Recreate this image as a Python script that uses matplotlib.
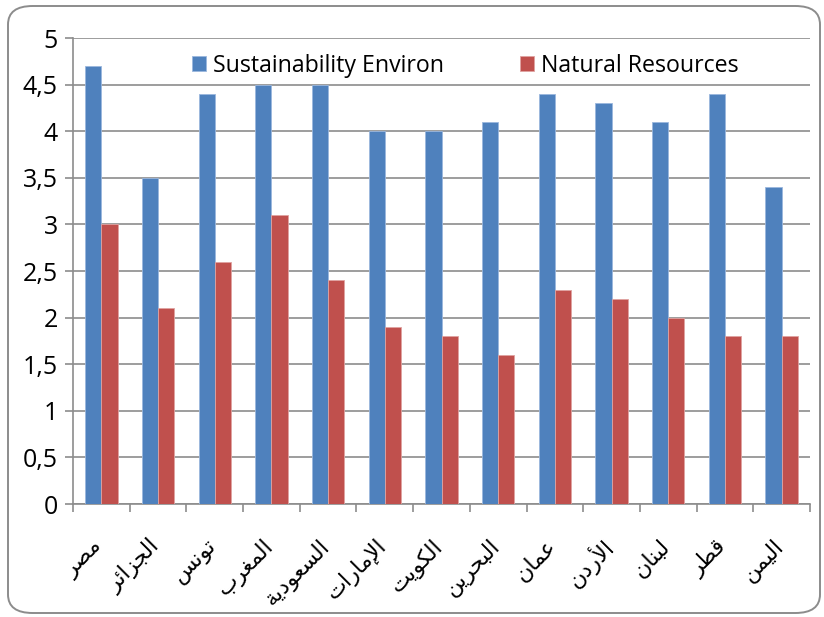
import matplotlib
matplotlib.use("Agg")
import matplotlib.pyplot as plt
from matplotlib.patches import FancyBboxPatch
import numpy as np

countries = ["مصر", "الجزائر", "تونس", "المغرب", "السعودية", "الإمارات", "الكويت",
             "البحرين", "عمان", "الأردن", "لبنان", "قطر", "اليمن"]
sustainability = [4.7, 3.5, 4.4, 4.5, 4.5, 4.0, 4.0, 4.1, 4.4, 4.3, 4.1, 4.4, 3.4]
natural_resources = [3.0, 2.1, 2.6, 3.1, 2.4, 1.9, 1.8, 1.6, 2.3, 2.2, 2.0, 1.8, 1.8]
series_names = ["Sustainability Environ", "Natural Resources"]
y_ticks = [0, 0.5, 1, 1.5, 2, 2.5, 3, 3.5, 4, 4.5, 5]
y_tick_labels = ["0", "0,5", "1", "1,5", "2", "2,5", "3", "3,5", "4", "4,5", "5"]

# --- minimal Arabic shaping (contextual forms + lam-alef) for LTR renderers ---
FORMS = {  # isolated, final, initial, medial
    'ء': (0xFE80,), 'آ': (0xFE81, 0xFE82), 'أ': (0xFE83, 0xFE84), 'ؤ': (0xFE85, 0xFE86),
    'إ': (0xFE87, 0xFE88), 'ئ': (0xFE89, 0xFE8A, 0xFE8B, 0xFE8C), 'ا': (0xFE8D, 0xFE8E),
    'ب': (0xFE8F, 0xFE90, 0xFE91, 0xFE92), 'ة': (0xFE93, 0xFE94),
    'ت': (0xFE95, 0xFE96, 0xFE97, 0xFE98), 'ث': (0xFE99, 0xFE9A, 0xFE9B, 0xFE9C),
    'ج': (0xFE9D, 0xFE9E, 0xFE9F, 0xFEA0), 'ح': (0xFEA1, 0xFEA2, 0xFEA3, 0xFEA4),
    'خ': (0xFEA5, 0xFEA6, 0xFEA7, 0xFEA8), 'د': (0xFEA9, 0xFEAA), 'ذ': (0xFEAB, 0xFEAC),
    'ر': (0xFEAD, 0xFEAE), 'ز': (0xFEAF, 0xFEB0),
    'س': (0xFEB1, 0xFEB2, 0xFEB3, 0xFEB4), 'ش': (0xFEB5, 0xFEB6, 0xFEB7, 0xFEB8),
    'ص': (0xFEB9, 0xFEBA, 0xFEBB, 0xFEBC), 'ض': (0xFEBD, 0xFEBE, 0xFEBF, 0xFEC0),
    'ط': (0xFEC1, 0xFEC2, 0xFEC3, 0xFEC4), 'ظ': (0xFEC5, 0xFEC6, 0xFEC7, 0xFEC8),
    'ع': (0xFEC9, 0xFECA, 0xFECB, 0xFECC), 'غ': (0xFECD, 0xFECE, 0xFECF, 0xFED0),
    'ف': (0xFED1, 0xFED2, 0xFED3, 0xFED4), 'ق': (0xFED5, 0xFED6, 0xFED7, 0xFED8),
    'ك': (0xFED9, 0xFEDA, 0xFEDB, 0xFEDC), 'ل': (0xFEDD, 0xFEDE, 0xFEDF, 0xFEE0),
    'م': (0xFEE1, 0xFEE2, 0xFEE3, 0xFEE4), 'ن': (0xFEE5, 0xFEE6, 0xFEE7, 0xFEE8),
    'ه': (0xFEE9, 0xFEEA, 0xFEEB, 0xFEEC), 'و': (0xFEED, 0xFEEE), 'ى': (0xFEEF, 0xFEF0),
    'ي': (0xFEF1, 0xFEF2, 0xFEF3, 0xFEF4),
}
LAM_ALEF = {'ا': (0xFEFB, 0xFEFC), 'أ': (0xFEF7, 0xFEF8), 'إ': (0xFEF9, 0xFEFA), 'آ': (0xFEF5, 0xFEF6)}


def shape_arabic(word):
    # merge lam + alef variants into single units
    units = []
    i = 0
    while i < len(word):
        c = word[i]
        if c == 'ل' and i + 1 < len(word) and word[i + 1] in LAM_ALEF:
            units.append(('LA', word[i + 1]))
            i += 2
        else:
            units.append(('C', c))
            i += 1

    def joins_left(u):  # can connect to the following letter
        if u[0] == 'LA':
            return False
        f = FORMS.get(u[1])
        return f is not None and len(f) == 4

    def joins_right(u):  # can connect to the preceding letter
        if u[0] == 'LA':
            return True
        f = FORMS.get(u[1])
        return f is not None and len(f) >= 2

    out = []
    for k, u in enumerate(units):
        prev_j = k > 0 and joins_left(units[k - 1]) and joins_right(u)
        next_j = k + 1 < len(units) and joins_left(u) and joins_right(units[k + 1])
        if u[0] == 'LA':
            iso, fin = LAM_ALEF[u[1]]
            out.append(chr(fin if prev_j else iso))
            continue
        f = FORMS.get(u[1])
        if f is None:
            out.append(u[1])
            continue
        if len(f) == 4:
            if prev_j and next_j:
                g = f[3]
            elif prev_j:
                g = f[1]
            elif next_j:
                g = f[2]
            else:
                g = f[0]
        elif len(f) == 2:
            g = f[1] if prev_j else f[0]
        else:
            g = f[0]
        out.append(chr(g))
    return ''.join(reversed(out))


blue = "#4F81BD"
red = "#C0504D"
grid_gray = "#8C8C8C"

fig = plt.figure(figsize=(8.24, 6.17), dpi=100)
ax = fig.add_axes([73 / 824, 1 - 504 / 617, (810 - 73) / 824, (504 - 38) / 617])

x = np.arange(len(countries))
w = 0.285
ax.bar(x - w / 2, sustainability, w, color=blue, edgecolor="#9BB7DD", linewidth=0.6,
       label=series_names[0], zorder=3)
ax.bar(x + w / 2, natural_resources, w, color=red, edgecolor="#E0A3A1", linewidth=0.6,
       label=series_names[1], zorder=3)

ax.set_xlim(-0.5, len(countries) - 0.5)
ax.set_ylim(0, 5)
ax.set_yticks(y_ticks)
ax.set_yticklabels(y_tick_labels, fontfamily="Open Sans", fontsize=18)
ax.yaxis.grid(True, color=grid_gray, linewidth=1.2, zorder=0)
ax.set_axisbelow(True)

# category boundary ticks on the x axis
ax.set_xticks(np.arange(len(countries) + 1) - 0.5)
ax.set_xticklabels([])
ax.tick_params(axis='x', direction='out', length=6, width=1.2, color=grid_gray)
ax.tick_params(axis='y', direction='out', length=6, width=1.2, color=grid_gray, pad=5)
for xi, name in zip(x, countries):
    ax.text(xi - 0.03, -0.42, shape_arabic(name), rotation=45, rotation_mode='anchor',
            ha='right', va='center', fontsize=16, fontfamily="DejaVu Sans",
            transform=ax.transData)

for s in ['top', 'right']:
    ax.spines[s].set_visible(False)
for s in ['left', 'bottom']:
    ax.spines[s].set_color(grid_gray)
    ax.spines[s].set_linewidth(1.2)

leg = ax.legend(loc='center left', bbox_to_anchor=(0.1615, 0.94), ncol=2, frameon=False,
                prop={'family': 'Open Sans', 'size': 16.7}, handlelength=0.6,
                handleheight=0.6, handletextpad=0.3, columnspacing=3.3, borderpad=0,
                borderaxespad=0)
leg.set_zorder(5)

# rounded outer frame
frame = FancyBboxPatch((8 / 824, 4 / 617), 812 / 824, 607 / 617,
                       boxstyle="round,pad=0,rounding_size=0.03",
                       transform=fig.transFigure, fill=False,
                       edgecolor=grid_gray, linewidth=1.4)
fig.patches.append(frame)

fig.savefig("out.png", dpi=100)
